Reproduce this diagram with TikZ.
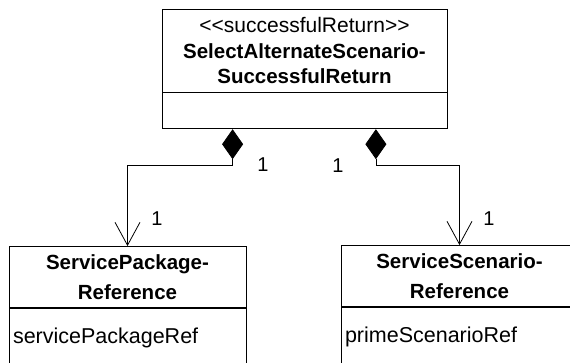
\documentclass[tikz,border=0pt]{standalone}
\usepackage{fontspec}
\setmainfont{Liberation Sans}
\usetikzlibrary{calc, arrows.meta, positioning}

\tikzset{
  classe/.style={draw, line width=0.8pt, minimum width=237, minimum height=61,
    inner sep=0pt, align=center, font=\fontsize{20.5}{30}\selectfont},
  attributi/.style={classe, minimum height=60, anchor=north, text width=229, align=left,
    font=\fontsize{21.5}{26}\selectfont},
  comp/.style={line width=0.8pt, {Diamond[length=30, width=21]}-{Straight Barb[length=23, width=25]}},
  molt/.style={font=\fontsize{20}{24}\selectfont, inner sep=0pt}
}

\begin{document}
\begin{tikzpicture}[x=1pt, y=-1pt]
  \useasboundingbox (0,0) rectangle (570,362);
  \clip (0,0) rectangle (570,362);

  % classe principale
  \node[classe, minimum width=285, minimum height=83, font=\fontsize{20.5}{25.5}\selectfont] (ret) at (304.5,50.5)
    {{\fontsize{21}{25.5}\selectfont <\kern0pt<successfulReturn>\kern0pt>}\\ \textbf{SelectAlternateScenario-}\\ \textbf{SuccessfulReturn}};
  \node[classe, minimum width=285, minimum height=36, anchor=north] (retattr) at (ret.south) {};

  % classi collegate
  \node[classe] (pkg) at (127.5,277) {\textbf{ServicePackage-}\\ \textbf{Reference}};
  \node[attributi] (pkgattr) at (pkg.south) {servicePackageRef};

  \node[classe] (scn) at (459.5,276) {\textbf{ServiceScenario-}\\ \textbf{Reference}};
  \node[attributi] (scnattr) at (scn.south) {primeScenarioRef};

  % composizioni
  \draw[comp] ($(retattr.south west)+(71,0)$) -- ++(0,36) -| (pkg.north);
  \draw[comp] ($(retattr.south east)+(-71.5,0)$) -- ++(0,36) -| (scn.north);

  % molteplicita
  \node[molt] (m1) at (263,165) {1};
  \node[molt] (m2) at (338,166) {1};
  \node[molt] (m3) at (157,219) {1};
  \node[molt] (m4) at (489,219) {1};
\end{tikzpicture}
\end{document}
